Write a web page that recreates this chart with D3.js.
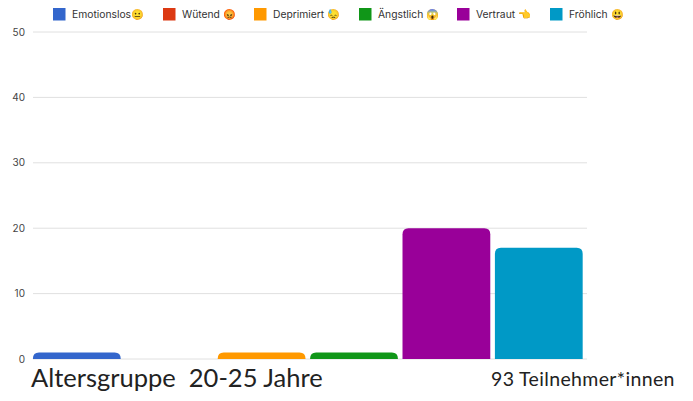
<!DOCTYPE html>
<html><head><meta charset="utf-8">
<script src="https://cdn.jsdelivr.net/npm/d3@7"></script>
<style>html,body{margin:0;padding:0;background:#fff}svg{display:block}</style></head>
<body><div id="c"></div>
<script>
const categories=["Emotionslos","Wütend","Deprimiert","Ängstlich","Vertraut","Fröhlich"];
const emojis=["😐","😡","😓","😱","👈","😃"];
const values=[1,0,1,1,20,17];
const colors=["#3366cc","#dc3912","#ff9900","#109618","#990099","#0099c6"];
const yTicks=[0,10,20,30,40,50];
const legendX=[53,163,254,359,457,550];
const W=693,H=401;
const svg=d3.select("#c").append("svg").attr("width",W).attr("height",H);
const x=d3.scaleBand().domain(categories).range([28.3,587.3]).padding(0.05);
const y=d3.scaleLinear().domain([0,50]).range([359,32]);
const font="Inter, 'Noto Sans', sans-serif";
svg.append("g").selectAll("line").data(yTicks).join("line")
 .attr("x1",33).attr("x2",587).attr("y1",d=>y(d)).attr("y2",d=>y(d))
 .attr("stroke","#e0e0e0").attr("stroke-width",1);
svg.append("g").selectAll("text").data(yTicks).join("text")
 .attr("x",25).attr("y",d=>y(d)+3.5).attr("text-anchor","end")
 .attr("font-family",font).attr("font-size",10).attr("fill","#444").text(d=>d);
const r=6;
svg.append("g").selectAll("path").data(categories.map((c,i)=>({c,v:values[i],col:colors[i]})).filter(d=>d.v>0)).join("path")
 .attr("fill",d=>d.col)
 .attr("d",d=>{
  const x0=x(d.c),x1=x0+x.bandwidth(),t=y(d.v),b=y(0),rr=Math.min(r,b-t);
  return `M${x0},${b}V${t+rr}Q${x0},${t} ${x0+rr},${t}H${x1-rr}Q${x1},${t} ${x1},${t+rr}V${b}Z`;
 });
const lg=svg.append("g").selectAll("g").data(categories).join("g")
 .attr("transform",(d,i)=>`translate(${legendX[i]},8)`);
lg.append("rect").attr("width",12.5).attr("height",12.5).attr("fill",(d,i)=>colors[i]);
lg.append("text").attr("x",19).attr("y",10).attr("font-family",font).attr("font-size",10.3).attr("fill","#333")
 .text((d,i)=>d+(i?" ":"")+emojis[i]);
svg.append("text").attr("x",31).attr("y",387).attr("font-family","Lato, sans-serif").attr("font-size",25.5).attr("fill","#222").style("white-space","pre").text("Altersgruppe  20-25 Jahre");
svg.append("text").attr("x",491).attr("y",386).attr("font-family","Lato, sans-serif").attr("font-size",19.5).attr("letter-spacing",0.35).attr("fill","#222").text("93 Teilnehmer*innen");
</script></body></html>
